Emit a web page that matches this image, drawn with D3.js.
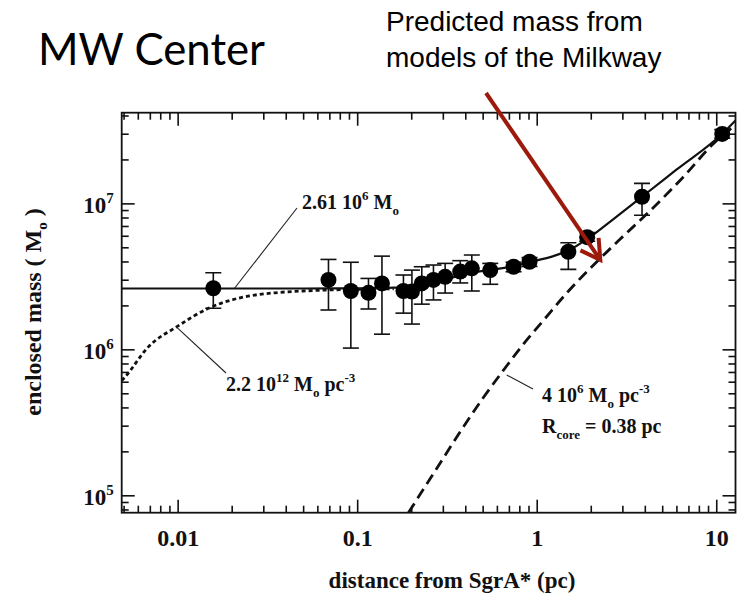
<!DOCTYPE html>
<html><head><meta charset="utf-8">
<script src="https://cdn.jsdelivr.net/npm/d3@7/dist/d3.min.js"></script>
<style>
html,body{margin:0;padding:0;background:#fff;}
svg{display:block;}
</style></head>
<body>
<svg id="chart" width="738" height="608"></svg>
<script>
// ---------------- data ----------------
// measured enclosed mass (M_sun) vs distance from SgrA* (pc)
const distance = [0.0158, 0.0692, 0.0922, 0.1156, 0.1374, 0.181, 0.2018, 0.229, 0.266, 0.309, 0.375, 0.435, 0.551, 0.743, 0.912, 1.50, 1.91, 3.86, 10.8];
const mass     = [2.62e6, 2.99e6, 2.51e6, 2.44e6, 2.83e6, 2.51e6, 2.49e6, 2.83e6, 2.99e6, 3.14e6, 3.41e6, 3.59e6, 3.49e6, 3.68e6, 3.98e6, 4.66e6, 5.87e6, 1.11e7, 2.99e7];
const massLow  = [1.91e6, 1.86e6, 1.02e6, 1.89e6, 1.27e6, 1.77e6, 1.49e6, 2.04e6, 2.18e6, 2.43e6, 2.85e6, 2.51e6, 2.79e6, 3.40e6, 3.70e6, 3.53e6, 5.50e6, 8.3e6, 2.8e7];
const massHigh = [3.35e6, 4.13e6, 3.95e6, 3.06e6, 4.35e6, 3.23e6, 3.49e6, 3.68e6, 3.78e6, 3.88e6, 4.05e6, 4.43e6, 3.88e6, 3.95e6, 4.25e6, 5.37e6, 6.30e6, 1.37e7, 3.2e7];

// solid: point mass 2.61e6 + cluster
const totalModelR = [0.00488, 0.05, 0.1, 0.15, 0.2, 0.25, 0.3, 0.4, 0.55, 0.75, 0.92, 1.2, 1.5, 1.95, 2.6, 3.86, 6.0, 10.8, 12.8];
const totalModelM = [2.61e6, 2.61e6, 2.62e6, 2.64e6, 2.68e6, 2.78e6, 2.95e6, 3.3e6, 3.5e6, 3.72e6, 3.97e6, 4.3e6, 4.75e6, 5.8e6, 7.6e6, 1.11e7, 1.7e7, 3.0e7, 3.7e7];

// dotted: dense cluster 2.2e12 M_sun pc^-3
const denseClusterR = [0.00488, 0.00511, 0.00687, 0.00991, 0.01485, 0.0228, 0.0349, 0.0535, 0.104, 0.16];
const denseClusterM = [6.1e5, 6.49e5, 1.04e6, 1.43e6, 1.91e6, 2.27e6, 2.44e6, 2.52e6, 2.58e6, 2.6e6];

// dashed: stellar cluster 4e6 M_sun pc^-3, R_core = 0.38 pc
const starClusterR = [0.193, 0.27, 0.391, 0.5, 0.653, 0.85, 1.1, 1.5, 2.26, 2.92, 4.2, 6.5, 9.6, 12.8];
const starClusterM = [7.6e4, 1.45e5, 2.95e5, 4.6e5, 7.2e5, 1.1e6, 1.6e6, 2.5e6, 4.2e6, 5.7e6, 8.7e6, 1.5e7, 2.55e7, 3.45e7];

const xTickValues = [0.01, 0.1, 1, 10];
const xTickLabels = ["0.01", "0.1", "1", "10"];
const yTickValues = [1e5, 1e6, 1e7];
const yTickExponents = ["5", "6", "7"];

// ---------------- chart ----------------
(function () {
const svg = d3.select("#chart");
svg.append("rect").attr("width", 738).attr("height", 608).attr("fill", "#fff");

const pLeft = 121.7, pRight = 735.5, pTop = 112.7, pBottom = 512.7;
const x = d3.scaleLog().domain([0.00488, 12.8]).range([pLeft, pRight]);
const y = d3.scaleLog().domain([7.6e4, 4.18e7]).range([pBottom, pTop]);

const serif = "'Liberation Serif','Times New Roman',serif";

// minor ticks (axis structure)
const minorX = [], minorY = [];
[0.001, 0.01, 0.1, 1, 10].forEach(d => { for (let k = 2; k <= 9; k++) { const v = d * k; if (v > x.domain()[0] && v < x.domain()[1]) minorX.push(v); } });
[1e4, 1e5, 1e6, 1e7].forEach(d => { for (let k = 2; k <= 9; k++) { const v = d * k; if (v > y.domain()[0] && v < y.domain()[1]) minorY.push(v); } });

function styleAxis(g) {
  g.select(".domain").remove();
  g.selectAll(".tick line").attr("stroke", "#111").attr("stroke-width", 1.6);
}
const majLen = 13, minLen = 7;
// bottom
svg.append("g").attr("transform", `translate(0,${pBottom})`)
  .call(d3.axisBottom(x).tickValues(minorX).tickSize(-minLen).tickFormat("")).call(styleAxis);
svg.append("g").attr("transform", `translate(0,${pBottom})`)
  .call(d3.axisBottom(x).tickValues(xTickValues).tickSize(-majLen).tickPadding(16)
    .tickFormat((d, i) => xTickLabels[i]))
  .call(styleAxis)
  .call(g => g.selectAll("text").attr("font-family", serif).attr("font-weight", "bold")
    .attr("font-size", 24).attr("fill", "#111"));
// top
svg.append("g").attr("transform", `translate(0,${pTop})`)
  .call(d3.axisTop(x).tickValues(minorX).tickSize(-minLen).tickFormat("")).call(styleAxis);
svg.append("g").attr("transform", `translate(0,${pTop})`)
  .call(d3.axisTop(x).tickValues(xTickValues).tickSize(-majLen).tickFormat("")).call(styleAxis);
// left
svg.append("g").attr("transform", `translate(${pLeft},0)`)
  .call(d3.axisLeft(y).tickValues(minorY).tickSize(-minLen).tickFormat("")).call(styleAxis);
svg.append("g").attr("transform", `translate(${pLeft},0)`)
  .call(d3.axisLeft(y).tickValues(yTickValues).tickSize(-majLen).tickFormat("")).call(styleAxis);
// right
svg.append("g").attr("transform", `translate(${pRight},0)`)
  .call(d3.axisRight(y).tickValues(minorY).tickSize(-minLen).tickFormat("")).call(styleAxis);
svg.append("g").attr("transform", `translate(${pRight},0)`)
  .call(d3.axisRight(y).tickValues(yTickValues).tickSize(-majLen).tickFormat("")).call(styleAxis);

// y tick labels with superscripts
yTickValues.forEach((v, i) => {
  const t = svg.append("text").attr("x", pLeft - 8).attr("y", y(v) + 10)
    .attr("text-anchor", "end").attr("font-family", serif).attr("font-weight", "bold")
    .attr("font-size", 23).attr("fill", "#111");
  t.append("tspan").text("10");
  t.append("tspan").attr("dy", -10).attr("font-size", 15).text(yTickExponents[i]);
});

// frame
svg.append("rect").attr("x", pLeft).attr("y", pTop).attr("width", pRight - pLeft).attr("height", pBottom - pTop)
  .attr("fill", "none").attr("stroke", "#111").attr("stroke-width", 1.8);

svg.append("clipPath").attr("id", "clip").append("rect")
  .attr("x", pLeft).attr("y", pTop).attr("width", pRight - pLeft).attr("height", pBottom - pTop);
const plot = svg.append("g").attr("clip-path", "url(#clip)");

const line = d3.line().x(d => x(d[0])).y(d => y(d[1])).curve(d3.curveMonotoneX);

plot.append("path").datum(d3.zip(denseClusterR, denseClusterM)).attr("d", line)
  .attr("fill", "none").attr("stroke", "#111").attr("stroke-width", 2.8).attr("stroke-dasharray", "4,3");
plot.append("path").datum(d3.zip(starClusterR, starClusterM)).attr("d", line)
  .attr("fill", "none").attr("stroke", "#111").attr("stroke-width", 2.8).attr("stroke-dasharray", "11,6");
plot.append("path").datum(d3.zip(totalModelR, totalModelM)).attr("d", line)
  .attr("fill", "none").attr("stroke", "#111").attr("stroke-width", 2.2);

// error bars
const pts = distance.map((d, i) => ({ r: d, m: mass[i], lo: massLow[i], hi: massHigh[i] }));
const eb = plot.append("g").attr("stroke", "#111").attr("stroke-width", 1.6);
pts.forEach(p => {
  eb.append("line").attr("x1", x(p.r)).attr("x2", x(p.r)).attr("y1", y(p.lo)).attr("y2", y(p.hi));
  eb.append("line").attr("x1", x(p.r) - 8).attr("x2", x(p.r) + 8).attr("y1", y(p.lo)).attr("y2", y(p.lo));
  eb.append("line").attr("x1", x(p.r) - 8).attr("x2", x(p.r) + 8).attr("y1", y(p.hi)).attr("y2", y(p.hi));
});
plot.append("g").selectAll("circle").data(pts).join("circle")
  .attr("cx", p => x(p.r)).attr("cy", p => y(p.m)).attr("r", 8).attr("fill", "#000");

// annotations
const ann = svg.append("g").attr("font-family", serif).attr("font-weight", "bold").attr("fill", "#111").attr("font-size", 20);
const leader = (x1, y1, x2, y2) => svg.append("line").attr("x1", x1).attr("y1", y1).attr("x2", x2).attr("y2", y2)
  .attr("stroke", "#222").attr("stroke-width", 1.1);
leader(x(0.0207), y(2.61e6), 297, 208);
leader(x(0.0098), y(1.43e6), 226, 373);
leader(506.7, 375, 533, 389);

function richText(xp, yp, parts) {
  const t = ann.append("text").attr("x", xp).attr("y", yp);
  parts.forEach(p => {
    const s = t.append("tspan").text(p.t);
    if (p.sup) s.attr("font-size", 13).attr("dy", -9);
    if (p.sub) s.attr("font-size", 13).attr("dy", 6);
    if (p.reset) s.attr("dy", p.reset);
  });
  return t;
}
richText(302, 209, [{t: "2.61 10"}, {t: "6", sup: 1}, {t: " M", reset: 9}, {t: "o", sub: 1}]);
richText(226, 391, [{t: "2.2 10"}, {t: "12", sup: 1}, {t: " M", reset: 9}, {t: "o", sub: 1}, {t: " pc", reset: -6}, {t: "-3", sup: 1}]);
richText(542, 402, [{t: "4 10"}, {t: "6", sup: 1}, {t: " M", reset: 9}, {t: "o", sub: 1}, {t: " pc", reset: -6}, {t: "-3", sup: 1}]);
richText(542, 433, [{t: "R"}, {t: "core", sub: 1}, {t: " = 0.38 pc", reset: -6}]);

// axis titles
svg.append("text").attr("x", 452).attr("y", 588).attr("text-anchor", "middle")
  .attr("font-family", serif).attr("font-weight", "bold").attr("font-size", 23).attr("fill", "#111")
  .text("distance from SgrA* (pc)");
const yt = svg.append("text").attr("transform", "translate(41,312) rotate(-90)").attr("text-anchor", "middle")
  .attr("font-family", serif).attr("font-weight", "bold").attr("font-size", 24).attr("fill", "#111");
yt.append("tspan").text("enclosed mass ( M");
yt.append("tspan").attr("font-size", 15).attr("dy", 6).text("o");
yt.append("tspan").attr("dy", -6).text(" )");

// headline texts
const title = svg.append("text").attr("x", 38).attr("y", 65).attr("font-family", "Lato, 'Open Sans', sans-serif")
  .attr("font-size", 48).attr("fill", "#000").text("MW Center");
const tw = title.node().getComputedTextLength();
title.attr("font-size", 48 * 227 / tw);

const note = svg.append("text").attr("font-family", "'Liberation Sans', Arial, sans-serif").attr("font-size", 28).attr("fill", "#000");
note.append("tspan").attr("x", 386).attr("y", 31).text("Predicted mass from");
note.append("tspan").attr("x", 386).attr("y", 67).text("models of the Milkway");

// red arrow pointing at the stellar-cluster model curve
const tipX = x(2.26), tipY = y(4.1e6);
const sx = 486, sy = 93;
const ang = Math.atan2(sy - tipY, sx - tipX);
const wing = 22, spread = Math.PI / 6;
const red = "#9c1a0c";
svg.append("line").attr("x1", sx).attr("y1", sy).attr("x2", tipX).attr("y2", tipY)
  .attr("stroke", red).attr("stroke-width", 4);
svg.append("path")
  .attr("d", `M${tipX + wing * Math.cos(ang + spread)},${tipY + wing * Math.sin(ang + spread)} L${tipX},${tipY} L${tipX + wing * Math.cos(ang - spread)},${tipY + wing * Math.sin(ang - spread)}`)
  .attr("fill", "none").attr("stroke", red).attr("stroke-width", 4).attr("stroke-linejoin", "miter");
})();
</script>
</body></html>
